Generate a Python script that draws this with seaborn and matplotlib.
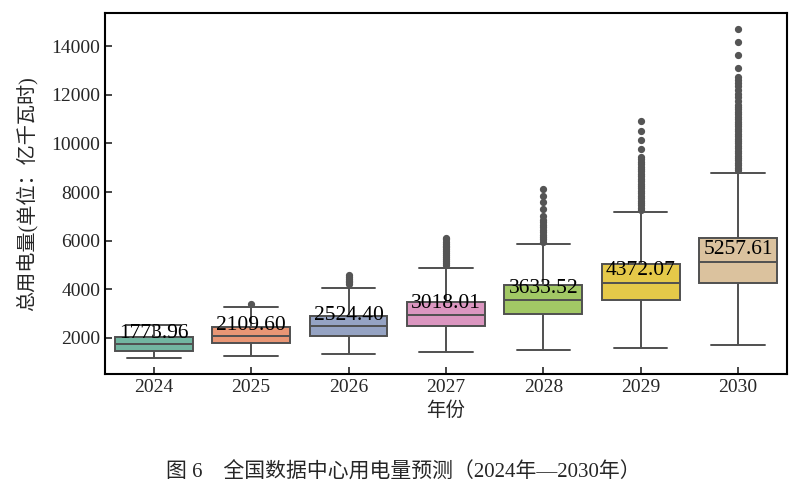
import pandas as pd
import matplotlib
matplotlib.use("Agg")
import matplotlib.pyplot as plt
import seaborn as sns

# 年份与箱线图统计量
years = ["2024", "2025", "2026", "2027", "2028", "2029", "2030"]
whisker_low = [1190, 1247, 1330, 1412, 1507, 1601, 1712]
q1 = [1466, 1800, 2070, 2481, 2986, 3562, 4248]
median = [1766, 2082, 2493, 2958, 3562, 4260, 5111]
q3 = [2053, 2430, 2917, 3467, 4166, 5020, 6100]
whisker_high = [2547, 3265, 4050, 4880, 5863, 7200, 8800]
# 标注数值（均值）
mean_labels = [1773.96, 2109.60, 2524.40, 3018.01, 3633.52, 4372.07, 5257.61]

# 异常值
outliers = {
    "2024": [],
    "2025": [3400],
    "2026": [4200, 4280, 4350, 4420, 4500, 4580],
    "2027": [5000, 5080, 5160, 5240, 5320, 5400, 5480, 5560, 5640,
             5720, 5800, 5880, 5960, 6050, 6120],
    "2028": [5960, 6050, 6150, 6250, 6350, 6450, 6550, 6650, 6750, 6850,
             7014, 7300, 7590, 7836, 8136],
    "2029": [7250, 7350, 7450, 7550, 7650, 7750, 7850, 7950, 8050, 8150,
             8250, 8350, 8450, 8550, 8650, 8750, 8850, 8950, 9050, 9150,
             9250, 9350, 9450, 9780, 10138, 10520, 10930],
    "2030": [8900, 9000, 9100, 9200, 9300, 9400, 9500, 9600, 9700, 9800,
             9900, 10000, 10100, 10200, 10300, 10400, 10500, 10600, 10700,
             10800, 10900, 11000, 11100, 11200, 11300, 11400, 11500, 11600,
             11750, 11900, 12050, 12200, 12350, 12500, 12600, 12740, 13125,
             13630, 14178, 14700],
}

# 由统计量构造数据（四分位值重复以固定分位点）
K = 100
rows = []
for i, y in enumerate(years):
    vals = ([whisker_low[i]] + [q1[i]] * K + [median[i]] * K + [q3[i]] * K
            + [whisker_high[i]] + outliers[y])
    rows += [(y, v) for v in vals]
df = pd.DataFrame(rows, columns=["年份", "用电量"])

sns.set_style("ticks")
plt.rcParams["font.family"] = ["Liberation Serif", "Noto Sans CJK SC"]
plt.rcParams["axes.unicode_minus"] = False

fig = plt.figure(figsize=(8.02, 4.94), dpi=100)
ax = fig.add_axes([0.131, 0.243, 0.85, 0.731])

sns.boxplot(data=df, x="年份", y="用电量", hue="年份", order=years,
            hue_order=years, palette="Set2", legend=False, width=0.8,
            linecolor="#505050", linewidth=1.4, ax=ax, capwidths=0.55,
            flierprops=dict(marker="o", markersize=4.2,
                            markerfacecolor="#555555",
                            markeredgecolor="#555555"))

for i, m in enumerate(mean_labels):
    ax.text(i, m, f"{m:.2f}", ha="center", va="bottom", fontsize=15.5,
            color="black")

ax.set_xlabel("年份", fontsize=14)
ax.set_ylabel("总用电量(单位：亿千瓦时)", fontsize=14.5, labelpad=10)
ax.tick_params(direction="in", labelsize=14, length=5, width=1.2)
for s in ax.spines.values():
    s.set_visible(True)
    s.set_linewidth(1.5)
    s.set_color("black")

fig.text(0.503, 0.043, "图 6　全国数据中心用电量预测（2024年—2030年）",
         ha="center", va="center", fontsize=15)

fig.savefig("out.png", dpi=100)
